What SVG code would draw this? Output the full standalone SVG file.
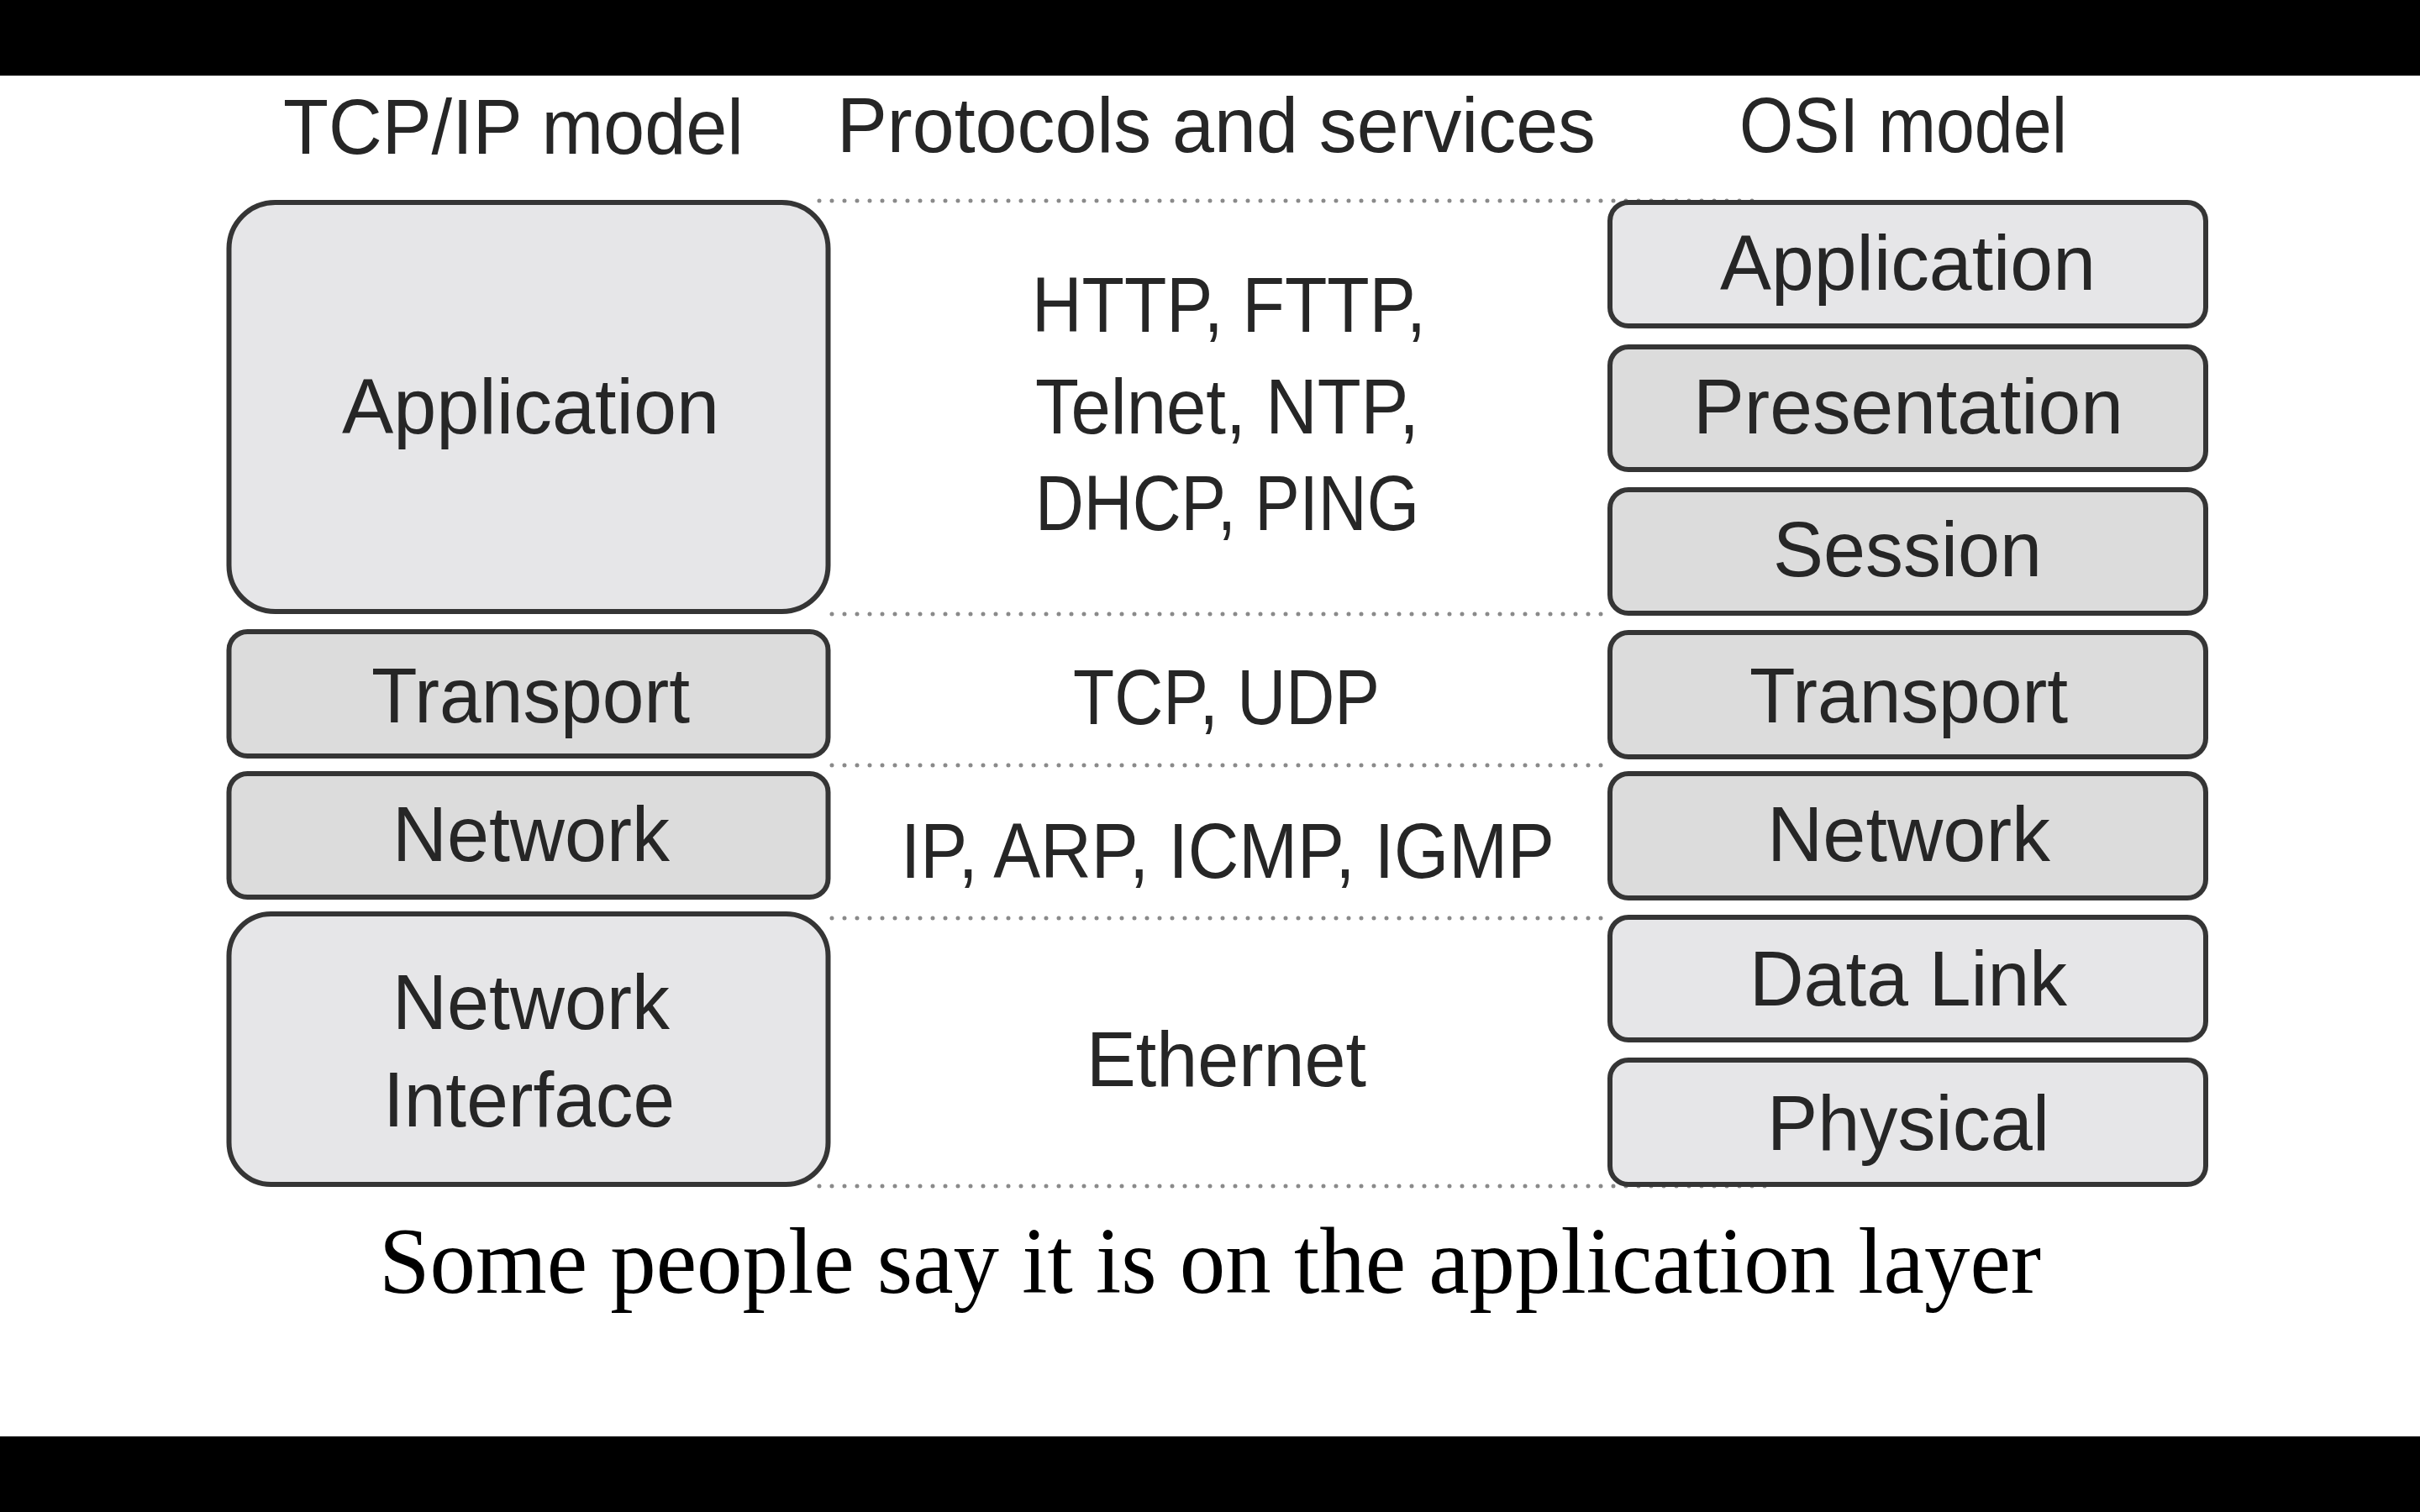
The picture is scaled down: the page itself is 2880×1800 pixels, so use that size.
<svg xmlns="http://www.w3.org/2000/svg" width="2880" height="1800" viewBox="0 0 2880 1800">
<style>
.box{stroke:#353535;stroke-width:6}
.lt{fill:#e6e6e8}
.dk{fill:#dcdcdc}
.t{font-family:"Liberation Sans",Arial,sans-serif;font-size:92px;fill:#262626}
.dot{stroke:#8a8a8a;stroke-width:5;stroke-linecap:round;stroke-dasharray:0 15;fill:none}
.cap{font-family:"Liberation Serif","Times New Roman",serif;font-size:112px;fill:#000}
</style>
<rect x="0" y="0" width="2880" height="1800" fill="#ffffff"/>
<rect x="0" y="0" width="2880" height="90" fill="#000"/>
<rect x="0" y="1710" width="2880" height="90" fill="#000"/>

<g id="headers">
<text class="t" x="337" y="183" textLength="548" lengthAdjust="spacingAndGlyphs">TCP/IP model</text>
<text class="t" x="996" y="181" textLength="903" lengthAdjust="spacingAndGlyphs">Protocols and services</text>
<text class="t" x="2070" y="181" textLength="390" lengthAdjust="spacingAndGlyphs">OSI model</text>
</g>

<g id="connectors">
<line class="dot" x1="975" y1="239" x2="2090" y2="239"/>
<line class="dot" x1="990" y1="731" x2="1912" y2="731"/>
<line class="dot" x1="990" y1="911" x2="1912" y2="911"/>
<line class="dot" x1="990" y1="1093" x2="1912" y2="1093"/>
<line class="dot" x1="975" y1="1412" x2="2110" y2="1412"/>
</g>

<g id="tcp-application">
<rect class="box lt" x="272.5" y="241" width="713" height="487" rx="55"/>
<text class="t" x="407" y="516" textLength="449" lengthAdjust="spacingAndGlyphs">Application</text>
</g>
<g id="tcp-transport">
<rect class="box dk" x="272.5" y="752" width="713" height="148" rx="22"/>
<text class="t" x="442" y="860" textLength="379" lengthAdjust="spacingAndGlyphs">Transport</text>
</g>
<g id="tcp-network">
<rect class="box dk" x="272.5" y="921" width="713" height="147" rx="22"/>
<text class="t" x="467" y="1025" textLength="330" lengthAdjust="spacingAndGlyphs">Network</text>
</g>
<g id="tcp-network-interface">
<rect class="box lt" x="272.5" y="1088" width="713" height="322" rx="50"/>
<text class="t" x="467" y="1225" textLength="330" lengthAdjust="spacingAndGlyphs">Network</text>
<text class="t" x="456" y="1341" textLength="347" lengthAdjust="spacingAndGlyphs">Interface</text>
</g>

<g id="proto-application">
<text class="t" x="1228" y="395" textLength="469" lengthAdjust="spacingAndGlyphs">HTTP, FTTP,</text>
<text class="t" x="1232" y="516" textLength="457" lengthAdjust="spacingAndGlyphs">Telnet, NTP,</text>
<text class="t" x="1232" y="631" textLength="457" lengthAdjust="spacingAndGlyphs">DHCP, PING</text>
</g>
<g id="proto-transport">
<text class="t" x="1277" y="862" textLength="365" lengthAdjust="spacingAndGlyphs">TCP, UDP</text>
</g>
<g id="proto-network">
<text class="t" x="1072" y="1045" textLength="778" lengthAdjust="spacingAndGlyphs">IP, ARP, ICMP, IGMP</text>
</g>
<g id="proto-link">
<text class="t" x="1293" y="1293" textLength="333" lengthAdjust="spacingAndGlyphs">Ethernet</text>
</g>

<g id="osi-application">
<rect class="box lt" x="1916" y="241" width="709" height="147" rx="22"/>
<text class="t" x="2047" y="345" textLength="447" lengthAdjust="spacingAndGlyphs">Application</text>
</g>
<g id="osi-presentation">
<rect class="box dk" x="1916" y="413" width="709" height="146" rx="22"/>
<text class="t" x="2015" y="516" textLength="512" lengthAdjust="spacingAndGlyphs">Presentation</text>
</g>
<g id="osi-session">
<rect class="box dk" x="1916" y="583" width="709" height="147" rx="22"/>
<text class="t" x="2110" y="686" textLength="320" lengthAdjust="spacingAndGlyphs">Session</text>
</g>
<g id="osi-transport">
<rect class="box dk" x="1916" y="753" width="709" height="148" rx="22"/>
<text class="t" x="2082" y="860" textLength="379" lengthAdjust="spacingAndGlyphs">Transport</text>
</g>
<g id="osi-network">
<rect class="box dk" x="1916" y="921" width="709" height="148" rx="22"/>
<text class="t" x="2103" y="1025" textLength="337" lengthAdjust="spacingAndGlyphs">Network</text>
</g>
<g id="osi-datalink">
<rect class="box lt" x="1916" y="1092" width="709" height="146" rx="22"/>
<text class="t" x="2082" y="1197" textLength="378" lengthAdjust="spacingAndGlyphs">Data Link</text>
</g>
<g id="osi-physical">
<rect class="box lt" x="1916" y="1262" width="709" height="148" rx="22"/>
<text class="t" x="2103" y="1369" textLength="336" lengthAdjust="spacingAndGlyphs">Physical</text>
</g>

<g id="caption">
<text class="cap" x="451" y="1539" textLength="1978" lengthAdjust="spacingAndGlyphs">Some people say it is on the application layer</text>
</g>
</svg>
